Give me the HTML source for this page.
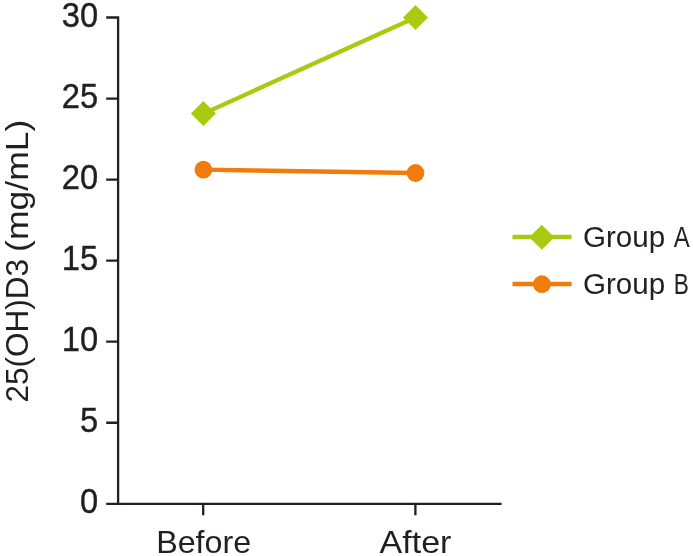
<!DOCTYPE html>
<html lang="en">
<head>
<meta charset="utf-8">
<title>25(OH)D3 chart</title>
<style>
html,body{margin:0;padding:0;background:#fff;}
body{width:693px;height:556px;overflow:hidden;}
svg{display:block;}
text{font-family:"Liberation Sans",sans-serif;fill:#231f20;}
#chart{position:relative;width:693px;height:556px;}
.lab{position:absolute;white-space:nowrap;font-family:"Liberation Sans",sans-serif;font-size:28.7px;line-height:30px;color:#231f20;transform-origin:0 0;}
.lab span{display:inline-block;transform-origin:0 50%;}
</style>
</head>
<body>
<div id="chart">
<svg width="693" height="556" viewBox="0 0 693 556">
<rect width="693" height="556" fill="#ffffff"/>
<!-- axes -->
<g stroke="#231f20" stroke-width="2.3" fill="none" stroke-linecap="butt">
<path d="M106.2 17.5H118.1V503.8"/>
<path d="M106.2 503.8H501.6"/>
<path d="M106.2 98.55H118.1M106.2 179.6H118.1M106.2 260.65H118.1M106.2 341.7H118.1M106.2 422.75H118.1"/>
<path d="M203.2 503.8V515.2M415.4 503.8V515.2"/>
</g>
<!-- y tick labels -->
<g font-size="35" text-anchor="end" stroke="#231f20" stroke-width="0.4">
<text transform="translate(98.1 27) scale(0.935 1)">30</text>
<text transform="translate(98.1 108.05) scale(0.935 1)">25</text>
<text transform="translate(98.1 189.1) scale(0.935 1)">20</text>
<text transform="translate(98.1 270.15) scale(0.935 1)">15</text>
<text transform="translate(98.1 351.2) scale(0.935 1)">10</text>
<text transform="translate(98.1 432.25) scale(0.935 1)">5</text>
<text transform="translate(98.1 513.3) scale(0.935 1)">0</text>
</g>
<!-- x labels -->
<text id="xb" transform="translate(156.2 552.5) scale(1.023 1)" font-size="31.5">Before</text>
<text id="xa" transform="translate(379.6 552.5) scale(1.08 1)" font-size="31.5">After</text>
<!-- series -->
<g stroke-width="4.3" fill="none">
<path d="M203.4 113.6L415.5 17.5" stroke="#a8cb12"/>
<path d="M203.4 169.7L415.5 173" stroke="#f07c0c"/>
<path d="M512.5 237H571.6" stroke="#a8cb12"/>
<path d="M512.5 284H571.6" stroke="#f07c0c"/>
</g>
<g fill="#a8cb12">
<path d="M203.4 101.1L215.9 113.6L203.4 126.1L190.9 113.6Z"/>
<path d="M415.5 5L428 17.5L415.5 30L403 17.5Z"/>
<path d="M541.8 224.8L554.3 237.3L541.8 249.8L529.3 237.3Z"/>
</g>
<g fill="#f07c0c">
<circle cx="203.4" cy="169.7" r="8.9"/>
<circle cx="415.5" cy="173" r="8.9"/>
<circle cx="541.9" cy="284.2" r="8.9"/>
</g>
</svg>
<div class="lab" id="yl" style="left:0;top:0;font-size:32px;line-height:32px;transform:translate(1.05px,402.6px) rotate(-90deg) scaleX(0.985)">25(OH)D3 <span style="transform:scaleX(1.1269);margin-left:-1.6px">(mg/mL)</span></div>
<div class="lab" id="ga" style="left:582.5px;top:222px;transform:scaleX(1.03)">Group <span style="transform:scaleX(0.81);margin-left:0.3px">A</span></div>
<div class="lab" id="gb" style="left:582.5px;top:269px;transform:scaleX(1.03)">Group <span style="transform:scaleX(0.765);margin-left:0px">B</span></div>
</div>
</body>
</html>
